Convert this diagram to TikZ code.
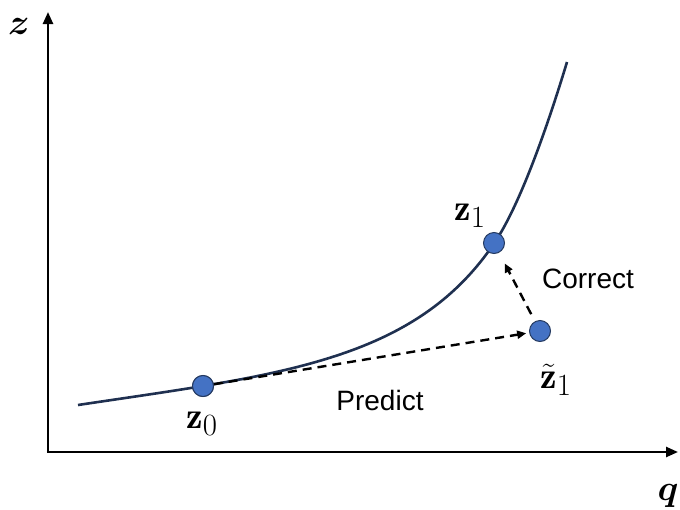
\documentclass[tikz,border=0pt]{standalone}
\usepackage{fontspec}
\usepackage{amsmath}
\usepackage{bm}
\usepackage{graphicx}
\newfontfamily\arialfont{Liberation Sans}
\usetikzlibrary{arrows.meta}
\definecolor{curvenavy}{HTML}{1F3050}
\definecolor{dotfill}{HTML}{4472C4}
\definecolor{dotedge}{HTML}{253A60}
\newcommand{\bigmath}[2]{\scalebox{#1}{\fontsize{24.88}{28}\selectfont$#2$}}
\tikzset{
  axis/.style={line width=2.4pt, -{Triangle[length=12pt,width=10pt]}},
  curveline/.style={curvenavy, line width=2.6pt},
  dotnode/.style={circle, fill=dotfill, draw=dotedge, line width=1pt, minimum size=21pt, inner sep=0pt},
  dasharrow/.style={line width=2.4pt, dash pattern=on 9pt off 6pt, -{Triangle[length=9pt,width=8pt]}},
  mathlabel/.style={inner sep=0pt},
  wordlabel/.style={font=\arialfont\fontsize{28}{32}\selectfont, inner sep=0pt}
}
\begin{document}
\begin{tikzpicture}[x=1pt,y=-1pt]
\useasboundingbox (0,0) rectangle (680,509);
\coordinate (origin) at (48,452);
\coordinate (ytop) at (48,12);
\coordinate (xend) at (678,452);
\draw[axis] (origin) -- (ytop);
\draw[axis] ([xshift=-1.2pt]origin) -- (xend);
\node[mathlabel] (zlab) at (19,26) {\bigmath{1.45}{\bm{z}}};
\node[mathlabel] (qlab) at (668,496) {\bigmath{1.45}{\bm{q}}};
\coordinate (cstart) at (78,405);
\coordinate (cmid) at (495,242);
\coordinate (cend) at (567,62);
\draw[curveline] (cstart) .. controls (278,375) and (415,362) .. (cmid)
  .. controls (520,204.5) and (547,128) .. (cend);
\node[dotnode] (z0) at (203,386) {};
\node[dotnode] (z1) at (494,243) {};
\node[dotnode] (zt1) at (540,331) {};
\draw[dasharrow, shorten >=3pt] (z0) -- (zt1);
\draw[dasharrow, shorten <=8pt, shorten >=12pt] (zt1) -- (z1);
\node[dotnode] at (z0) {};
\node[mathlabel] (z0lab) at (202,424) {\bigmath{1.49}{\mathbf{z}_0}};
\node[mathlabel] (z1lab) at (470,216) {\bigmath{1.49}{\mathbf{z}_1}};
\node[mathlabel] (zt1lab) at (556,380) {\bigmath{1.49}{\tilde{\mathbf{z}}_1}};
\node[wordlabel] (pred) at (380,400) {Predict};
\node[wordlabel] (corr) at (588,279) {Correct};
\end{tikzpicture}
\end{document}
